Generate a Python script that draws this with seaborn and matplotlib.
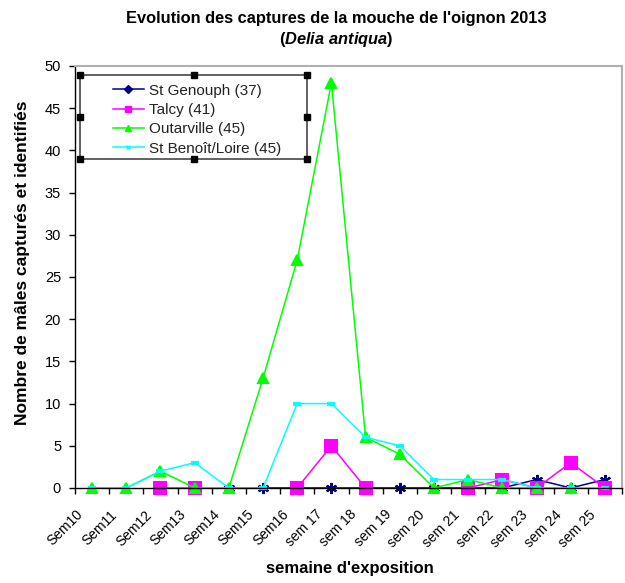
import numpy as np
import pandas as pd
import matplotlib
matplotlib.use("Agg")
import matplotlib.pyplot as plt
import matplotlib.transforms as mtransforms
from matplotlib.lines import Line2D
from matplotlib.patches import Rectangle
import seaborn as sns

# Semaines (catégories)
semaines = ["Sem10", "Sem11", "Sem12", "Sem13", "Sem14", "Sem15", "Sem16",
            "sem 17", "sem 18", "sem 19", "sem 20", "sem 21", "sem 22",
            "sem 23", "sem 24", "sem 25"]

nan = np.nan
st_genouph = [nan, nan, nan, nan, 0, 0, 0, 0, 0, 0, 0, 0, 0, 1, 0, 1]
talcy = [nan, nan, 0, 0, nan, nan, 0, 5, 0, nan, nan, 0, 1, 0, 3, 0]
outarville = [0, 0, 2, 0, 0, 13, 27, 48, 6, 4, 0, 1, 0, 0, 0, nan]
st_benoit = [0, 0, 2, 3, 0, 0, 10, 10, 6, 5, 1, 1, 1, 0, 0, 0]

series_names = ["St Genouph (37)", "Talcy (41)", "Outarville (45)",
                "St Benoît/Loire (45)"]
series_values = [st_genouph, talcy, outarville, st_benoit]

colors = ["#000080", "#FF00FF", "#00FF00", "#00FFFF"]
plot_markers = [(6, 2, 0), "s", "^", "_"]
plot_msize = [8, 9, 7, 6]
legend_markers = ["D", "s", "^", "x"]
legend_msize = [4, 5, 5, 3]

plt.rcParams["font.family"] = ["Liberation Sans", "DejaVu Sans"]
plt.rcParams["mathtext.fontset"] = "custom"
plt.rcParams["mathtext.it"] = "Liberation Sans:italic:bold"

fig = plt.figure(figsize=(6.25, 5.83), dpi=100)
ax = fig.add_axes([0.12, 0.163, 0.8752, 0.7238])

pos = np.arange(len(semaines))
for name, vals, col, mk, ms in zip(series_names, series_values, colors,
                                   plot_markers, plot_msize):
    v = np.array(vals, dtype=float)
    # segments continus pour garder les trous
    seg = np.cumsum(np.isnan(v))
    df = pd.DataFrame({"pos": pos, "n": v, "seg": seg}).dropna()
    sns.lineplot(data=df, x="pos", y="n", units="seg", estimator=None,
                 color=col, marker=mk, markersize=ms, linewidth=1.1,
                 markeredgecolor=col, markeredgewidth=1.5 if mk != "_" else 3,
                 ax=ax, legend=False, sort=False)
for ln in ax.lines:
    ln.set_clip_on(False)

ax.set_xlim(-0.5, len(semaines) - 0.5)
ax.set_ylim(0, 50)
ax.set_yticks(np.arange(0, 51, 5))
ax.set_xticks(pos)
ax.set_xticklabels([])
# étiquettes inclinées, décalées comme dans Excel
shift = mtransforms.ScaledTranslation(-0.11, -0.245, fig.dpi_scale_trans)
for p, lab in zip(pos, semaines):
    ax.text(p, 0, lab, transform=ax.get_xaxis_transform() + shift,
            rotation=45, ha="right", va="center", rotation_mode="anchor",
            fontsize=10)
ax.set_xticks(np.arange(-0.5, len(semaines), 1), minor=True)
ax.tick_params(axis="x", which="major", length=0)
ax.tick_params(axis="x", which="minor", length=4, direction="out", width=1)
ax.tick_params(axis="y", length=4, direction="out", labelsize=10.5, width=1,
               pad=6)

for s in ["left", "bottom"]:
    ax.spines[s].set_color("black")
    ax.spines[s].set_linewidth(1)
for s in ["top", "right"]:
    ax.spines[s].set_color("#b0b0b0")
    ax.spines[s].set_linewidth(1.5)

ax.set_xlabel("semaine d'exposition", fontsize=12, fontweight="bold")
ax.set_ylabel("Nombre de mâles capturés et identifiés", fontsize=12.5,
              fontweight="bold")
ax.xaxis.set_label_coords(0.503, -0.173)
ax.yaxis.set_label_coords(-0.082, 0.533)

fig.text(0.538, 0.969, "Evolution des captures de la mouche de l'oignon 2013",
         ha="center", va="center", fontsize=11.8, fontweight="bold")
fig.text(0.538, 0.933, r"($\it{Delia\ antiqua}$)", ha="center",
         va="center", fontsize=11.8, fontweight="bold")

# cadre de légende (style Excel) avec poignées de sélection
box = Rectangle((0.00914, 0.7796), 0.415, 0.199, transform=ax.transAxes,
                facecolor="white", edgecolor="#555555", linewidth=1.3,
                zorder=4, clip_on=False)
ax.add_patch(box)
for bx in [0.00914, 0.00914 + 0.415 / 2, 0.00914 + 0.415]:
    for by in [0.7796, 0.7796 + 0.199 / 2, 0.7796 + 0.199]:
        if bx != 0.00914 and bx != 0.00914 + 0.415 and by == 0.7796 + 0.199 / 2:
            continue
        ax.add_patch(Rectangle((bx - 3 / 547, by - 3 / 422), 6 / 547,
                               6 / 422, transform=ax.transAxes,
                               color="black", zorder=6, clip_on=False))

handles = [Line2D([], [], color=c, marker=m, markersize=s, linewidth=1.1,
                  markeredgecolor=c)
           for c, m, s in zip(colors, legend_markers, legend_msize)]
leg = ax.legend(handles, series_names, loc="upper left",
                bbox_to_anchor=(0.0695, 0.958), frameon=False, fontsize=11,
                handlelength=2.0, handletextpad=0.35, labelspacing=0.35,
                borderpad=0, borderaxespad=0)
leg.set_zorder(5)
for t in leg.get_texts():
    t.set_color("#222222")

fig.savefig("out.png", dpi=100)
